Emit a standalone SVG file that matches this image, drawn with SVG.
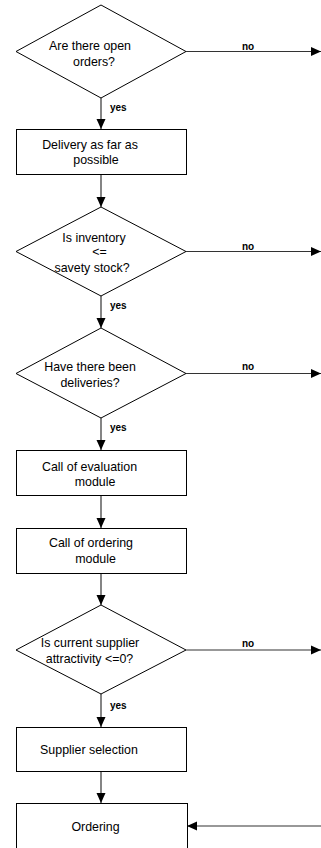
<svg xmlns="http://www.w3.org/2000/svg" width="321" height="848" viewBox="0 0 321 848">
<style>
.shape{fill:#fff;stroke:#000;stroke-width:1}
.conn{fill:none;stroke:#333;stroke-width:1.2}
.t{font-family:"Liberation Sans",Arial,sans-serif;font-size:12.4px;fill:#000;text-anchor:middle}
.lbl{font-family:"Liberation Sans",Arial,sans-serif;font-size:10px;font-weight:bold;fill:#000}
</style>
<defs>
<marker id="ah" markerUnits="userSpaceOnUse" markerWidth="11" markerHeight="10" refX="10" refY="5" orient="auto">
<path d="M0,0.5 L10,5 L0,9.5 z" fill="#000"/>
</marker>
</defs>
<g id="connectors">
<line class="conn" x1="186" y1="51.5" x2="321" y2="51.5" marker-end="url(#ah)"/>
<line class="conn" x1="101" y1="98" x2="101" y2="129" marker-end="url(#ah)"/>
<line class="conn" x1="101" y1="174" x2="101" y2="207" marker-end="url(#ah)"/>
<line class="conn" x1="186" y1="251.5" x2="321" y2="251.5" marker-end="url(#ah)"/>
<line class="conn" x1="101" y1="296" x2="101" y2="328" marker-end="url(#ah)"/>
<line class="conn" x1="186" y1="373.5" x2="321" y2="373.5" marker-end="url(#ah)"/>
<line class="conn" x1="101" y1="418" x2="101" y2="450" marker-end="url(#ah)"/>
<line class="conn" x1="101" y1="495" x2="101" y2="528" marker-end="url(#ah)"/>
<line class="conn" x1="101" y1="573" x2="101" y2="605" marker-end="url(#ah)"/>
<line class="conn" x1="186" y1="650" x2="321" y2="650" marker-end="url(#ah)"/>
<line class="conn" x1="101" y1="694" x2="101" y2="727" marker-end="url(#ah)"/>
<line class="conn" x1="101" y1="771" x2="101" y2="803" marker-end="url(#ah)"/>
<line class="conn" x1="321" y1="826" x2="187" y2="826" marker-end="url(#ah)"/>
<text class="lbl" x="242" y="50">no</text>
<text class="lbl" x="110" y="111">yes</text>
<text class="lbl" x="242" y="250">no</text>
<text class="lbl" x="110" y="309">yes</text>
<text class="lbl" x="242" y="370">no</text>
<text class="lbl" x="110" y="431">yes</text>
<text class="lbl" x="242" y="647">no</text>
<text class="lbl" x="110" y="709">yes</text>
</g>
<g id="d1">
<polygon class="shape" points="101,5 186,51.5 101,98 16,51.5"/>
<text class="t" x="90" y="49.5">Are there open</text>
<text class="t" x="94" y="66">orders?</text>
</g>
<g id="b1">
<rect class="shape" x="16.5" y="129.5" width="170" height="45"/>
<text class="t" x="90" y="148.5">Delivery as far as</text>
<text class="t" x="96" y="163.5">possible</text>
</g>
<g id="d2">
<polygon class="shape" points="101,207 186,251.5 101,296 16,251.5"/>
<text class="t" x="94" y="241.5">Is inventory</text>
<text class="t" x="99.5" y="255.5">&lt;=</text>
<text class="t" x="92" y="271.5">savety stock?</text>
</g>
<g id="d3">
<polygon class="shape" points="101,328 186,373.5 101,418 16,373.5"/>
<text class="t" x="90" y="370.5">Have there been</text>
<text class="t" x="90" y="386.5">deliveries?</text>
</g>
<g id="b2">
<rect class="shape" x="16.5" y="450.5" width="170" height="45"/>
<text class="t" x="89.5" y="470.5">Call of evaluation</text>
<text class="t" x="95" y="485.5">module</text>
</g>
<g id="b3">
<rect class="shape" x="16.5" y="528.5" width="170" height="45"/>
<text class="t" x="91" y="546.5">Call of ordering</text>
<text class="t" x="95.5" y="562.5">module</text>
</g>
<g id="d4">
<polygon class="shape" points="101,605 186,650 101,694 16,650"/>
<text class="t" x="90" y="646.5">Is current supplier</text>
<text class="t" x="89.5" y="662.5">attractivity &lt;=0?</text>
</g>
<g id="b4">
<rect class="shape" x="16.5" y="727.5" width="170" height="44"/>
<text class="t" x="89" y="753.5">Supplier selection</text>
</g>
<g id="b5">
<rect class="shape" x="16.5" y="803.5" width="171" height="60"/>
<text class="t" x="95.5" y="830.5">Ordering</text>
</g>
</svg>
